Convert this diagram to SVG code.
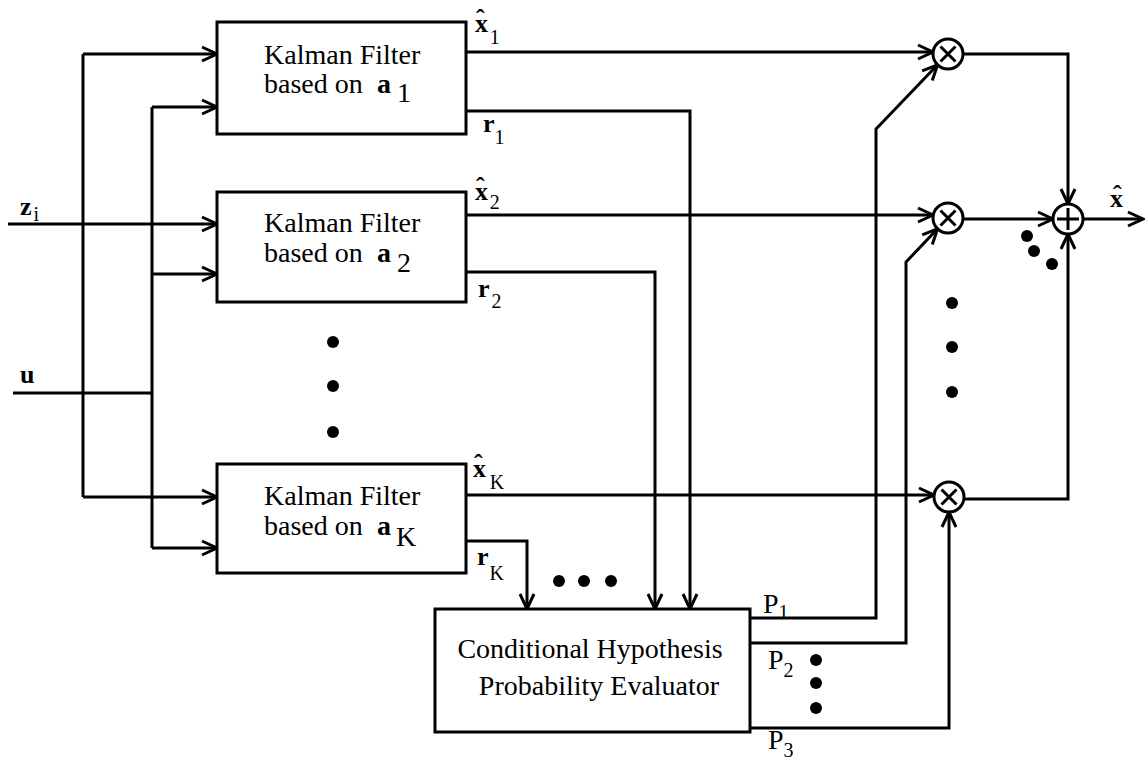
<svg xmlns="http://www.w3.org/2000/svg" width="1145" height="761" viewBox="0 0 1145 761">
<style>
.box{fill:#fff;stroke:#000;stroke-width:3}
.ln{fill:none;stroke:#000;stroke-width:3;stroke-linejoin:miter}
.op{fill:#fff;stroke:#000;stroke-width:3}
.t{font-family:"Liberation Serif","Times New Roman",serif;font-size:28px;fill:#000}
.lb{font-family:"Liberation Serif","Times New Roman",serif;font-size:26px;font-weight:bold;fill:#000}
.sub{font-family:"Liberation Serif","Times New Roman",serif;font-size:20px;font-weight:normal;fill:#000}
.dot{fill:#000}
</style>
<defs>
<marker id="arr" markerUnits="userSpaceOnUse" markerWidth="22" markerHeight="18" viewBox="-19 -9 22 18" refX="0" refY="0" orient="auto" overflow="visible">
<path d="M-15,-7 L0,0 L-15,7" fill="none" stroke="#000" stroke-width="3"/>
</marker>
</defs>

<g id="connectors">
<path class="ln" d="M8,224 H217" marker-end="url(#arr)"/>
<path class="ln" d="M83,54 V497"/>
<path class="ln" d="M83,54 H217" marker-end="url(#arr)"/>
<path class="ln" d="M83,497 H217" marker-end="url(#arr)"/>
<path class="ln" d="M13,393 H152"/>
<path class="ln" d="M152,107 V548"/>
<path class="ln" d="M152,107 H217" marker-end="url(#arr)"/>
<path class="ln" d="M152,274 H217" marker-end="url(#arr)"/>
<path class="ln" d="M152,548 H217" marker-end="url(#arr)"/>
<path class="ln" d="M466,52 H933" marker-end="url(#arr)"/>
<path class="ln" d="M466,111 H690 V609" marker-end="url(#arr)"/>
<path class="ln" d="M466,215 H933" marker-end="url(#arr)"/>
<path class="ln" d="M466,272 H655 V609" marker-end="url(#arr)"/>
<path class="ln" d="M466,495 H934" marker-end="url(#arr)"/>
<path class="ln" d="M466,541 H527 V609" marker-end="url(#arr)"/>
<path class="ln" d="M750,618 H876 V129 L937.6,64.8" marker-end="url(#arr)"/>
<path class="ln" d="M750,643 H906 V262 L937.6,228.8" marker-end="url(#arr)"/>
<path class="ln" d="M750,728 H949 V512" marker-end="url(#arr)"/>
<path class="ln" d="M963,54 H1068 V204" marker-end="url(#arr)"/>
<path class="ln" d="M963,219 H1053" marker-end="url(#arr)"/>
<path class="ln" d="M964,499 H1068 V234" marker-end="url(#arr)"/>
<path class="ln" d="M1083,219 H1143" marker-end="url(#arr)"/>
</g>

<g id="kf1">
<rect class="box" x="217" y="22" width="249" height="112"/>
<text class="t" x="264" y="64">Kalman Filter</text>
<text class="t" x="264" y="93">based on</text>
<text class="t" x="377" y="93" font-weight="bold">a</text>
<text class="t" x="397" y="102" font-size="22">1</text>
</g>
<g id="kf2">
<rect class="box" x="217" y="192" width="249" height="110"/>
<text class="t" x="264" y="232">Kalman Filter</text>
<text class="t" x="264" y="262">based on</text>
<text class="t" x="377" y="262" font-weight="bold">a</text>
<text class="t" x="397" y="272" font-size="22">2</text>
</g>
<g id="kfK">
<rect class="box" x="217" y="464" width="249" height="109"/>
<text class="t" x="264" y="505">Kalman Filter</text>
<text class="t" x="264" y="535">based on</text>
<text class="t" x="377" y="535" font-weight="bold">a</text>
<text class="t" x="396" y="546" font-size="22">K</text>
</g>
<g id="evaluator">
<rect class="box" x="435" y="609" width="315" height="123"/>
<text class="t" x="590" y="658" text-anchor="middle">Conditional Hypothesis</text>
<text class="t" x="599" y="695" text-anchor="middle">Probability Evaluator</text>
</g>
<g id="mult1">
<circle class="op" cx="948" cy="54" r="15"/>
<path class="ln" d="M940.5,46.5 L955.5,61.5 M955.5,46.5 L940.5,61.5"/>
</g>
<g id="mult2">
<circle class="op" cx="948" cy="218" r="15"/>
<path class="ln" d="M940.5,210.5 L955.5,225.5 M955.5,210.5 L940.5,225.5"/>
</g>
<g id="multK">
<circle class="op" cx="949" cy="497" r="15"/>
<path class="ln" d="M941.5,489.5 L956.5,504.5 M956.5,489.5 L941.5,504.5"/>
</g>
<g id="sum">
<circle class="op" cx="1068" cy="219" r="15"/>
<path class="ln" d="M1057,219 H1079 M1068,208 V230"/>
</g>

<g id="labels">
<text class="lb" x="20" y="215">z<tspan class="sub" dx="2" dy="6">i</tspan></text>
<text class="lb" x="20" y="383">u</text>
<text class="lb" x="475" y="32">x<tspan dx="-12" dy="-5">ˆ</tspan><tspan class="sub" dx="5" dy="17">1</tspan></text>
<text class="lb" x="483" y="132">r<tspan class="sub" dx="0" dy="12">1</tspan></text>
<text class="lb" x="475" y="200">x<tspan dx="-12" dy="-5">ˆ</tspan><tspan class="sub" dx="5" dy="14">2</tspan></text>
<text class="lb" x="478" y="297">r<tspan class="sub" dx="2" dy="11">2</tspan></text>
<text class="lb" x="473" y="477">x<tspan dx="-12" dy="-5">ˆ</tspan><tspan class="sub" dx="7" dy="17">K</tspan></text>
<text class="lb" x="477" y="565">r<tspan class="sub" dx="1" dy="15">K</tspan></text>
<text class="t" x="763" y="613">P<tspan class="sub" dy="6">1</tspan></text>
<text class="t" x="768" y="669">P<tspan class="sub" dy="8">2</tspan></text>
<text class="t" x="768" y="749">P<tspan class="sub" dy="8">3</tspan></text>
<text class="lb" x="1110" y="207" font-size="22">x<tspan dx="-10" dy="-4">ˆ</tspan></text>
</g>

<g id="ellipses">
<circle class="dot" cx="333" cy="342" r="6"/>
<circle class="dot" cx="333" cy="386" r="6"/>
<circle class="dot" cx="333" cy="432" r="6"/>
<circle class="dot" cx="952" cy="303" r="6"/>
<circle class="dot" cx="952" cy="347" r="6"/>
<circle class="dot" cx="952" cy="392" r="6"/>
<circle class="dot" cx="1027" cy="236" r="6"/>
<circle class="dot" cx="1034" cy="251" r="6"/>
<circle class="dot" cx="1052" cy="264" r="6"/>
<circle class="dot" cx="559" cy="581" r="6"/>
<circle class="dot" cx="584" cy="581" r="6"/>
<circle class="dot" cx="611" cy="581" r="6"/>
<circle class="dot" cx="816" cy="660" r="6"/>
<circle class="dot" cx="816" cy="683" r="6"/>
<circle class="dot" cx="816" cy="708" r="6"/>
</g>
</svg>
